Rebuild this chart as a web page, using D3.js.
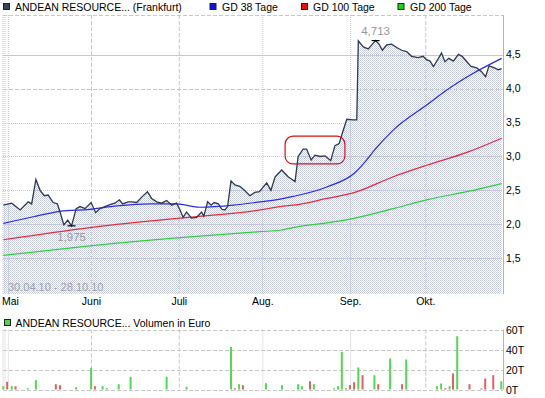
<!DOCTYPE html>
<html>
<head>
<meta charset="utf-8">
<script src="https://cdn.jsdelivr.net/npm/d3@7"></script>
<style>
  body { margin: 0; background: #fff; }
  svg { display: block; font-family: "Liberation Sans", Arial, sans-serif; }
</style>
</head>
<body>
<svg id="chart" width="545" height="398"></svg>
<script>
// trading day index (0 = 30.04.10, 130 = 28.10.10) and close in EUR
const priceDay = [0, 2.2, 4.4, 6.5, 7.4, 8.5, 9.6, 10.7, 11.7, 13.0, 14.1, 14.8, 15.8, 16.8, 17.8, 19.0, 20.0, 21.3, 22.9, 24.1,
  25.2, 26.5, 27.8, 29.1, 30.3, 31.1, 32.6, 33.5, 34.8, 36.1, 37.6, 38.7, 40.0, 41.3, 42.6, 43.9, 45.2, 46.1, 46.9, 47.8,
  49.1, 50.4, 51.7, 52.3, 53.3, 54.2, 55.0, 56.1, 57.0, 57.8, 58.5, 59.4, 60.4, 61.7, 62.9, 64.3, 65.6, 66.8, 68.7, 69.8,
  70.9, 72.6, 74.3, 76.1, 76.9, 78.2, 79.1, 80.3, 81.3, 82.6, 83.9, 85.4, 86.5, 87.6, 88.4, 89.6, 91.3, 92.2, 92.6, 93.9,
  95.2, 96.1, 97.1, 98.0, 98.9, 100.0, 101.3, 102.6, 103.9, 105.2, 106.5, 108.2, 109.5, 110.4, 111.3, 112.2, 113.5, 114.3, 115.2, 116.2,
  117.4, 118.7, 119.7, 120.9, 122.0, 123.5, 124.8, 125.8, 126.7, 128.1, 129.1, 130]
const priceClose = [2.28, 2.31, 2.21, 2.33, 2.30, 2.66, 2.50, 2.42, 2.43, 2.32, 2.30, 2.18, 1.99, 2.06, 1.975, 2.23, 2.26, 2.23, 2.32, 2.17,
  2.23, 2.26, 2.29, 2.31, 2.36, 2.30, 2.33, 2.33, 2.32, 2.40, 2.48, 2.38, 2.33, 2.31, 2.35, 2.28, 2.31, 2.21, 2.10, 2.18,
  2.09, 2.10, 2.18, 2.12, 2.33, 2.28, 2.32, 2.30, 2.22, 2.21, 2.26, 2.64, 2.58, 2.56, 2.50, 2.42, 2.47, 2.48, 2.61, 2.50,
  2.70, 2.80, 2.70, 2.63, 3.00, 3.11, 3.11, 2.95, 3.02, 3.00, 3.01, 2.94, 3.16, 3.19, 3.34, 3.55, 3.54, 3.54, 4.71, 4.62,
  4.59, 4.65, 4.713, 4.66, 4.57, 4.65, 4.66, 4.61, 4.57, 4.55, 4.48, 4.46, 4.48, 4.43, 4.41, 4.33, 4.45, 4.53, 4.40, 4.45,
  4.41, 4.51, 4.48, 4.40, 4.33, 4.31, 4.25, 4.18, 4.34, 4.31, 4.28, 4.30]

// moving averages (GD = gleitender Durchschnitt)
const gd38Day = [0, 7.8, 14.8, 22.6, 29.6, 38.3, 45.2, 51.3, 60, 67, 72.2, 75.6, 84.4, 91.7, 94.8, 96.9, 101.7, 110.4, 115.6, 122.6, 130]
const gd38Val = [2.01, 2.11, 2.19, 2.22, 2.27, 2.30, 2.30, 2.25, 2.28, 2.33, 2.37, 2.41, 2.55, 2.76, 2.95, 3.10, 3.39, 3.76, 3.98, 4.23, 4.45]
const gd100Day = [0, 22.6, 46.1, 67, 72.2, 75.6, 84.4, 91.7, 101.7, 110.4, 120.9, 130]
const gd100Val = [1.77, 1.95, 2.09, 2.21, 2.26, 2.28, 2.38, 2.47, 2.70, 2.87, 3.06, 3.27]
const gd200Day = [0, 22.6, 46.1, 67, 72.2, 75.6, 84.4, 91.7, 101.7, 110.4, 120.9, 130]
const gd200Val = [1.54, 1.68, 1.80, 1.89, 1.91, 1.95, 2.02, 2.09, 2.23, 2.36, 2.48, 2.60]

// volume in thousand EUR, up = closing higher
const volDay = [0, 1.0, 2.2, 3.2, 6.4, 8.5, 13.7, 14.8, 19.0, 22.9, 23.9, 25.9, 27.0, 30.1, 33.2, 42.6, 47.8, 59.4, 60.4, 61.5,
  62.5, 68.5, 72.7, 76.9, 77.9, 80.0, 81.0, 86.3, 87.3, 88.3, 89.4, 90.4, 91.5, 92.6, 93.7, 96.8, 97.8, 100.9, 104.0, 105.1,
  113.1, 114.2, 115.3, 116.4, 117.3, 118.4, 121.6, 124.7, 125.7, 127.8, 129.9]
const volValue = [3.3, 7.7, 3.3, 3.3, 1.3, 9.3, 5.3, 4.3, 2.3, 21.7, 3.3, 3.3, 1.3, 5.3, 12.7, 12.7, 2.7, 42.7, 1.3, 5.3,
  4.3, 6.3, 4.3, 5.3, 3.3, 8.3, 5.3, 1.3, 3.3, 37.7, 1.3, 4.3, 7.3, 22, 14.3, 14.3, 5.3, 31, 5.3, 30,
  3.3, 6, 1.3, 3.3, 16, 53.3, 5.3, 1, 11, 14.3, 8.3]
const volUp = [1, 0, 1, 0, 1, 1, 0, 0, 1, 1, 0, 1, 1, 1, 1, 1, 1, 1, 0, 1,
  0, 1, 1, 1, 1, 0, 1, 1, 1, 1, 1, 0, 0, 1, 0, 1, 0, 1, 0, 1,
  1, 1, 0, 1, 0, 1, 0, 0, 0, 0, 1]

const monthNames = ['Mai', 'Juni', 'Juli', 'Aug.', 'Sep.', 'Okt.']
const monthDay = [1.3, 23, 45.9, 67.7, 90.6, 110.2]
const priceTicks = [1.5, 2.0, 2.5, 3.0, 3.5, 4.0, 4.5]
const volTicks = [0, 20, 40, 60]
const maxPoint = [97.1, 4.713]
const minPoint = [17.8, 1.975]
const highlight = { from: 73.5, to: 89.1, lo: 2.89, hi: 3.30 }

const comma = v => d3.format('.1f')(v).replace('.', ',')
const zip = (a, b) => a.map((d, i) => [d, b[i]])

const svg = d3.select('#chart')
const gridCol = '#c8c8c8'
const plotL = 3
const plotR = 503
const plotT = 15
const plotB = 294
const volT = 329.5
const volB = 389.5

const x = d3.scaleLinear().domain([0, 130]).range([3.3, 501.7])
const y = d3.scaleLinear().domain([0.968, 5.091]).range([plotB, plotT])
const yv = d3.scaleLinear().domain([0, 60]).range([volB, volT])

// dot pattern used under the price line
const pat = svg.append('defs').append('pattern')
  .attr('id', 'dots').attr('width', 2).attr('height', 2)
  .attr('patternUnits', 'userSpaceOnUse')
pat.append('rect').attr('width', 1).attr('height', 1).attr('fill', '#c4c8de')
pat.append('rect').attr('x', 1).attr('y', 1).attr('width', 1).attr('height', 1).attr('fill', '#d2d4e2')

function vGrid (g, y0, y1) {
  // left strip made of dotted columns
  ;[3, 5, 8.3].forEach(px => {
    g.append('line').attr('x1', px).attr('x2', px).attr('y1', y0).attr('y2', y1)
      .attr('stroke', gridCol).attr('stroke-dasharray', '1,1')
  })
  g.selectAll('.vg').data(monthDay.slice(1)).enter().append('line')
    .attr('x1', d => x(d)).attr('x2', d => x(d)).attr('y1', y0).attr('y2', y1)
    .attr('stroke', gridCol)
    .attr('stroke-dasharray', (d, i) => (i === 2 || i === 3) ? '1,1' : '4,2')
}

// ---- main chart ----
const main = svg.append('g')
main.append('line').attr('x1', plotL).attr('x2', plotR).attr('y1', plotT + 0.5).attr('y2', plotT + 0.5)
  .attr('stroke', gridCol).attr('stroke-dasharray', '4,2')
main.selectAll('.hg').data(priceTicks).enter().append('line')
  .attr('x1', plotL).attr('x2', plotR)
  .attr('y1', d => Math.round(y(d)) + 0.5).attr('y2', d => Math.round(y(d)) + 0.5)
  .attr('stroke', gridCol)
  .attr('stroke-dasharray', d => d === 4.5 ? null : d === 4.0 ? '4,2' : '1,1')
vGrid(main, plotT, plotB)

const priceData = zip(priceDay, priceClose)
main.append('path').datum(priceData)
  .attr('d', d3.area().x(d => x(d[0])).y0(plotB).y1(d => y(d[1])))
  .attr('fill', 'url(#dots)')

// right axis
main.append('line').attr('x1', plotR + 0.5).attr('x2', plotR + 0.5).attr('y1', plotT).attr('y2', plotB)
  .attr('stroke', '#b4b4b4')
main.selectAll('.yl').data(priceTicks).enter().append('text')
  .attr('x', plotR + 3).attr('y', d => y(d) + 3.5)
  .attr('font-size', 10.5).attr('fill', '#000')
  .text(comma)

const maLine = d3.line().x(d => x(d[0])).y(d => y(d[1])).curve(d3.curveMonotoneX)
const mas = [[gd200Day, gd200Val, '#2ed32e'], [gd100Day, gd100Val, '#ee2b2b'], [gd38Day, gd38Val, '#2b2bee']]
mas.forEach(([days, vals, col]) => {
  main.append('path').datum(zip(days, vals)).attr('d', maLine)
    .attr('fill', 'none').attr('stroke', col).attr('stroke-width', 1.2)
})

main.append('path').datum(priceData)
  .attr('d', d3.line().x(d => x(d[0])).y(d => y(d[1])))
  .attr('fill', 'none').attr('stroke', '#2e3850').attr('stroke-width', 1.3)

// highlight box
main.append('rect')
  .attr('x', x(highlight.from)).attr('y', y(highlight.hi))
  .attr('width', x(highlight.to) - x(highlight.from)).attr('height', y(highlight.lo) - y(highlight.hi))
  .attr('rx', 8).attr('fill', 'none').attr('stroke', '#e01010').attr('stroke-width', 1.2)

// high / low markers
;[[maxPoint, -6], [minPoint, 15]].forEach(([p, dy]) => {
  main.append('line').attr('x1', x(p[0]) - 4).attr('x2', x(p[0]) + 4)
    .attr('y1', y(p[1])).attr('y2', y(p[1])).attr('stroke', '#000').attr('stroke-width', 1.2)
  main.append('text').attr('x', x(p[0])).attr('y', y(p[1]) + dy)
    .attr('text-anchor', 'middle').attr('font-size', 11.5).attr('fill', '#999')
    .text(String(p[1]).replace('.', ','))
})

main.append('text').attr('x', 8).attr('y', plotB - 3.5)
  .attr('font-size', 11).attr('fill', '#a0a0a0').text('30.04.10 - 28.10.10')

// month labels
main.selectAll('.ml').data(monthNames).enter().append('text')
  .attr('x', (d, i) => i === 0 ? 2 : x(monthDay[i]))
  .attr('y', 305)
  .attr('text-anchor', (d, i) => i === 0 ? 'start' : 'middle')
  .attr('font-size', 10.5).text(d => d)

// legend
const legend = [
  ['ANDEAN RESOURCE... (Frankfurt)', '#3a4258', 3, 15],
  ['GD 38 Tage', '#1010ee', 209.5, 222],
  ['GD 100 Tage', '#ee1010', 301, 313],
  ['GD 200 Tage', '#10dd10', 397.5, 410]
]
legend.forEach(([label, col, sx, tx]) => {
  svg.append('rect').attr('x', sx + 0.5).attr('y', 3.5).attr('width', 6).attr('height', 6)
    .attr('fill', col).attr('stroke', '#222')
  svg.append('text').attr('x', tx).attr('y', 10.5).attr('font-size', 10.5).text(label)
})

// ---- volume chart ----
const vol = svg.append('g')
svg.append('rect').attr('x', 4.5).attr('y', 319.5).attr('width', 6).attr('height', 6)
  .attr('fill', '#4cd64c').attr('stroke', '#222')
svg.append('text').attr('x', 15.5).attr('y', 326.5).attr('font-size', 10.5)
  .text('ANDEAN RESOURCE... Volumen in Euro')

vol.selectAll('.vh').data(volTicks).enter().append('line')
  .attr('x1', plotL).attr('x2', plotR)
  .attr('y1', d => Math.round(yv(d)) + 0.5).attr('y2', d => Math.round(yv(d)) + 0.5)
  .attr('stroke', gridCol).attr('stroke-dasharray', '4,2')
vGrid(vol, volT, volB)
vol.append('line').attr('x1', plotR + 0.5).attr('x2', plotR + 0.5).attr('y1', volT).attr('y2', volB)
  .attr('stroke', '#b4b4b4')

vol.selectAll('.bar').data(volDay).enter().append('rect')
  .attr('x', d => x(d) - 1)
  .attr('y', (d, i) => yv(volValue[i]))
  .attr('width', 2)
  .attr('height', (d, i) => yv(0) - yv(volValue[i]))
  .attr('fill', (d, i) => volUp[i] ? '#52d852' : '#e06262')

vol.selectAll('.vl').data(volTicks).enter().append('text')
  .attr('x', plotR + 3).attr('y', d => yv(d) + 4)
  .attr('font-size', 10.5).text(d => d + 'T')
</script>
</body>
</html>
